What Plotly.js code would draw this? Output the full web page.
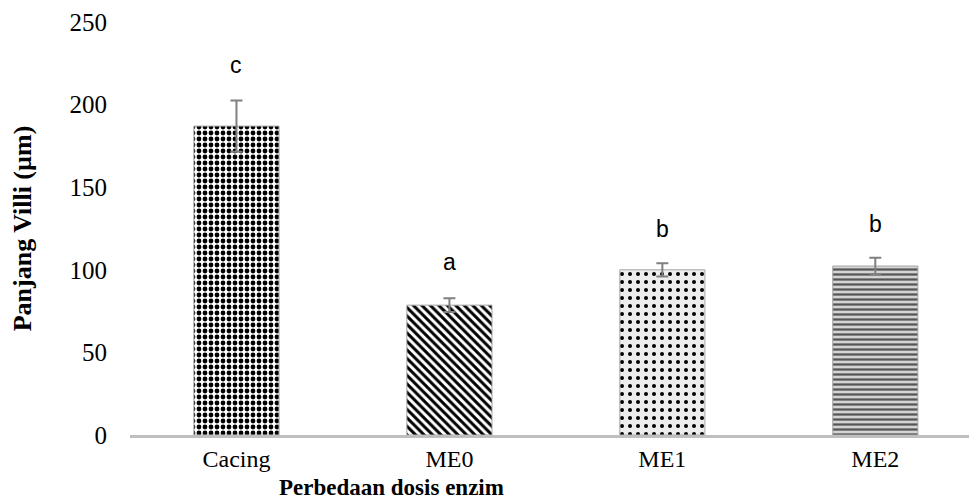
<!DOCTYPE html>
<html>
<head>
<meta charset="utf-8">
<script src="https://cdn.plot.ly/plotly-3.0.1.min.js"></script>
<style>html,body{margin:0;padding:0;background:#fff;}#chart{width:969px;height:501px;}</style>
</head>
<body>
<div id="chart"></div>
<script>
const categories = ["Cacing", "ME0", "ME1", "ME2"];
const values = [187, 78.6, 100, 102.3];
const errors = [15.5, 4.2, 4.0, 5.0];
const letters = ["c", "a", "b", "b"];
const letterY = [224, 105, 125, 128];

const patterns = [
  {shape: ".", fgcolor: "#000000", bgcolor: "#ffffff", size: 6, solidity: 0.5},
  {shape: "\\", fgcolor: "#000000", bgcolor: "#ffffff", size: 6, solidity: 0.5},
  {shape: ".", fgcolor: "#000000", bgcolor: "#eeeeee", size: 8, solidity: 0.2},
  {shape: "-", fgcolor: "#555555", bgcolor: "#d4d4d4", size: 5, solidity: 0.45}
];

const serif = "Liberation Serif, Times New Roman, serif";

const traces = categories.map((c, i) => ({
  type: "bar",
  x: [c],
  y: [values[i]],
  width: 0.4,
  marker: {color: "#ffffff", pattern: patterns[i], line: {color: "#a6a6a6", width: 1}},
  error_y: {type: "data", array: [errors[i]], visible: true, color: "#808080", thickness: 2, width: 6},
  showlegend: false,
  hoverinfo: "skip"
}));

const annotations = categories.map((c, i) => ({
  x: c, y: letterY[i], xref: "x", yref: "y", text: letters[i], showarrow: false,
  font: {family: "Liberation Sans, Arial, sans-serif", size: 23, color: "#000"}
}));
annotations.push({
  x: (391 - 130) / (969 - 130), y: -(487 - 435) / (435 - 22),
  xref: "paper", yref: "paper", xanchor: "center", yanchor: "middle",
  text: "<b>Perbedaan dosis enzim</b>", showarrow: false,
  font: {family: serif, size: 23, color: "#000"}
});

const layout = {
  width: 969, height: 501,
  margin: {l: 130, r: 0, t: 22, b: 66},
  paper_bgcolor: "#ffffff", plot_bgcolor: "#ffffff",
  xaxis: {
    type: "category", range: [-0.5, 3.44],
    showline: true, linecolor: "#bfbfbf", linewidth: 3,
    showgrid: false, zeroline: false, ticks: "",
    ticklabelstandoff: 0,
    tickfont: {family: serif, size: 24, color: "#000"}
  },
  yaxis: {
    range: [0, 250], dtick: 50, tick0: 0,
    showline: false, showgrid: false, zeroline: false, ticks: "",
    ticklabelstandoff: 22,
    tickfont: {family: serif, size: 25, color: "#000"},
    title: {text: "<b>Panjang Villi (µm)</b>", standoff: 30,
      font: {family: serif, size: 26, color: "#000"}}
  },
  annotations: annotations
};

Plotly.newPlot("chart", traces, layout, {displayModeBar: false, staticPlot: true});
</script>
</body>
</html>
